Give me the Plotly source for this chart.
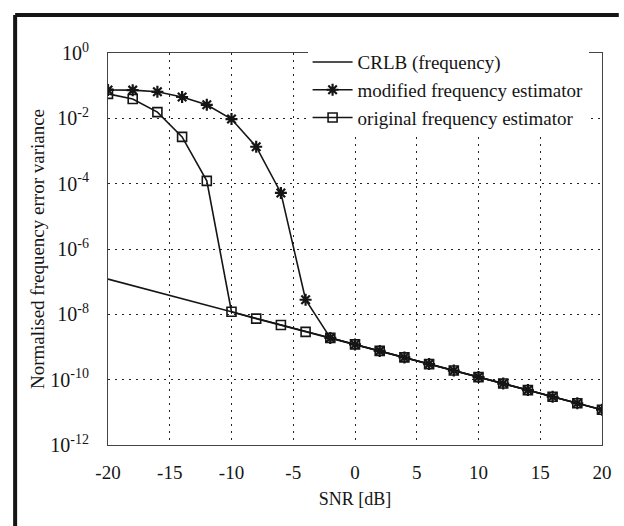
import plotly.graph_objects as go

snr = [-20, -18, -16, -14, -12, -10, -8, -6, -4, -2, 0, 2, 4, 6, 8, 10, 12, 14, 16, 18, 20]
crlb = [1.2e-7, 7.6e-8, 4.8e-8, 3.0e-8, 1.9e-8, 1.2e-8, 7.6e-9, 4.8e-9, 3.0e-9, 1.9e-9,
        1.2e-9, 7.6e-10, 4.8e-10, 3.0e-10, 1.9e-10, 1.2e-10, 7.6e-11, 4.8e-11, 3.0e-11, 1.9e-11, 1.2e-11]
modified = [0.074, 0.073, 0.065, 0.045, 0.026, 0.0095, 1.35e-3, 5.2e-5, 2.8e-8, 1.9e-9,
            1.2e-9, 7.6e-10, 4.8e-10, 3.0e-10, 1.9e-10, 1.2e-10, 7.6e-11, 4.8e-11, 3.0e-11, 1.9e-11, 1.2e-11]
original = [0.056, 0.039, 0.0155, 2.7e-3, 1.22e-4, 1.2e-8, 7.4e-9, 4.7e-9, 2.9e-9, 1.9e-9,
            1.2e-9, 7.6e-10, 4.8e-10, 3.0e-10, 1.9e-10, 1.2e-10, 7.6e-11, 4.8e-11, 3.0e-11, 1.9e-11, 1.2e-11]

x_ticks = [-20, -15, -10, -5, 0, 5, 10, 15, 20]
y_exps = [0, -2, -4, -6, -8, -10, -12]
y_tickvals = [10.0 ** e for e in y_exps]
y_ticktext = ["10<sup>%d</sup>" % e for e in y_exps]

font = "Liberation Serif, Times New Roman, serif"
ink = "#151515"

fig = go.Figure()
fig.add_trace(go.Scatter(x=snr, y=crlb, mode="lines", name="CRLB (frequency)",
                         line=dict(color=ink, width=1.6)))
fig.add_trace(go.Scatter(x=snr, y=modified, mode="lines+markers", name="modified frequency estimator",
                         line=dict(color=ink, width=1.6),
                         marker=dict(symbol="asterisk", size=10, color=ink,
                                     line=dict(color=ink, width=2.2))))
fig.add_trace(go.Scatter(x=snr, y=original, mode="lines+markers", name="original frequency estimator",
                         line=dict(color=ink, width=1.6),
                         marker=dict(symbol="square-open", size=9, color=ink,
                                     line=dict(color=ink, width=1.6))))

grid = dict(showgrid=True, gridcolor="#222", griddash="2px,5px", gridwidth=1.3,
            showline=True, linecolor="#444", linewidth=1.2, mirror=True,
            ticks="", zeroline=False)

fig.update_layout(
    width=624, height=526,
    margin=dict(l=108, r=17, t=53, b=81),
    paper_bgcolor="white", plot_bgcolor="white",
    font=dict(family=font, color=ink, size=16),
    showlegend=True,
    legend=dict(x=0.404, y=1.025, xanchor="left", yanchor="top",
                bgcolor="white", borderwidth=0,
                font=dict(family=font, size=19, color=ink),
                tracegroupgap=0, itemwidth=40),
    xaxis=dict(range=[-20, 20], tickvals=x_ticks, ticktext=[str(v) for v in x_ticks],
               ticklabelstandoff=10,
               tickfont=dict(family=font, size=19, color=ink),
               title=dict(text="SNR [dB]", font=dict(family=font, size=18, color=ink), standoff=10),
               **grid),
    yaxis=dict(type="log", range=[-12, 0], tickvals=y_tickvals, ticktext=y_ticktext,
               ticklabelstandoff=14,
               tickfont=dict(family=font, size=20, color=ink),
               title=dict(text="Normalised frequency error variance",
                          font=dict(family=font, size=19, color=ink), standoff=0),
               **grid),
)

# scanned-page frame (left and top thick borders)
fig.add_shape(type="line", xref="paper", yref="paper", x0=-0.188, x1=1.034, y0=1.097, y1=1.097,
              line=dict(color=ink, width=4))
fig.add_shape(type="line", xref="paper", yref="paper", x0=-0.188, x1=-0.188, y0=1.097, y1=-0.21,
              line=dict(color=ink, width=4))

fig.write_html("out.html")
